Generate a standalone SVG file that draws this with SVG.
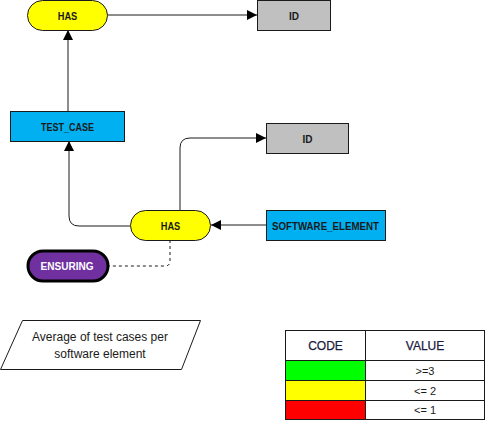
<svg xmlns="http://www.w3.org/2000/svg" width="487" height="421" viewBox="0 0 487 421">
<style>
.lbl{font-family:"Liberation Sans",Arial,sans-serif;font-weight:bold;font-size:11px;fill:#1a1a1a;text-anchor:middle;dominant-baseline:central}
.conn{fill:none;stroke:#1a1a1a;stroke-width:1}
.tbl{font-family:"Liberation Sans",Arial,sans-serif;font-size:11px;fill:#1a1a1a;text-anchor:middle;dominant-baseline:central}
.th{font-family:"Liberation Sans",Arial,sans-serif;font-size:12px;fill:#1a1a40;text-anchor:middle;dominant-baseline:central;stroke:#1a1a40;stroke-width:0.25}
</style>
<defs>
<marker id="arr" viewBox="0 0 10 10" refX="10" refY="5" markerWidth="10" markerHeight="10" markerUnits="userSpaceOnUse" orient="auto">
<path d="M0,0 L10,5 L0,10 Z" fill="#000"/>
</marker>
</defs>
<rect width="487" height="421" fill="#fff"/>
<g id="connectors">
<path class="conn" d="M107,15 H257" marker-end="url(#arr)"/>
<path class="conn" d="M68,111 V30" marker-end="url(#arr)"/>
<path class="conn" d="M180,210 V148 Q180,138 190,138 H266" marker-end="url(#arr)"/>
<path class="conn" d="M130,226 H79 Q69,226 69,216 V141" marker-end="url(#arr)"/>
<path class="conn" d="M266,225 H211" marker-end="url(#arr)"/>
<path class="conn" d="M170,240 V261 Q170,266 165,266 H108" stroke-dasharray="3,3"/>
</g>
<g id="has1">
<rect x="27.5" y="0.5" width="80" height="30" rx="15" fill="#ffff00" stroke="#1a1a1a"/>
<text class="lbl" x="67.5" y="15.5" textLength="19.5" lengthAdjust="spacingAndGlyphs">HAS</text>
</g>
<g id="id1">
<rect x="257.5" y="0.5" width="73" height="30" fill="#c0c0c0" stroke="#1a1a1a"/>
<text class="lbl" x="294" y="15.5" textLength="10" lengthAdjust="spacingAndGlyphs">ID</text>
</g>
<g id="test_case">
<rect x="10.5" y="111.5" width="114" height="30" fill="#00b0f0" stroke="#1a1a1a"/>
<text class="lbl" x="67.5" y="126.5" textLength="53" lengthAdjust="spacingAndGlyphs">TEST_CASE</text>
</g>
<g id="id2">
<rect x="266.5" y="123.5" width="82" height="30" fill="#c0c0c0" stroke="#1a1a1a"/>
<text class="lbl" x="307.5" y="138.5" textLength="10" lengthAdjust="spacingAndGlyphs">ID</text>
</g>
<g id="has2">
<rect x="130.5" y="210.5" width="80" height="30" rx="15" fill="#ffff00" stroke="#1a1a1a"/>
<text class="lbl" x="170.5" y="225.5" textLength="19.5" lengthAdjust="spacingAndGlyphs">HAS</text>
</g>
<g id="software_element">
<rect x="266.5" y="210.5" width="119" height="30" fill="#00b0f0" stroke="#1a1a1a"/>
<text class="lbl" x="325.5" y="225.5" textLength="107" lengthAdjust="spacingAndGlyphs">SOFTWARE_ELEMENT</text>
</g>
<g id="ensuring">
<rect x="28" y="251" width="80" height="30" rx="15" fill="#7030a0" stroke="#000" stroke-width="3"/>
<text class="lbl" x="67" y="266" style="fill:#fff" textLength="53" lengthAdjust="spacingAndGlyphs">ENSURING</text>
</g>
<g id="note">
<path d="M22.5,320.5 H200.5 L181.5,369.5 H0.5 Z" fill="#fff" stroke="#1a1a1a"/>
<text class="tbl" style="font-size:12px" x="100" y="337">Average of test cases per</text>
<text class="tbl" style="font-size:12px" x="100" y="354">software element</text>
</g>
<g id="legend">
<rect x="285.5" y="330.5" width="199" height="89" fill="#fff" stroke="#1a1a1a"/>
<rect x="285.5" y="360.5" width="80" height="20" fill="#00ff00" stroke="#1a1a1a"/>
<rect x="285.5" y="380.5" width="80" height="20" fill="#ffff00" stroke="#1a1a1a"/>
<rect x="285.5" y="400.5" width="80" height="19" fill="#ff0000" stroke="#1a1a1a"/>
<path d="M365.5,330.5 V419.5 M285.5,360.5 H484.5 M365.5,380.5 H484.5 M365.5,400.5 H484.5" stroke="#1a1a1a" fill="none"/>
<text class="th" x="325.5" y="345.5">CODE</text>
<text class="th" x="425" y="345.5">VALUE</text>
<text class="tbl" x="425" y="370.5">&gt;=3</text>
<text class="tbl" x="425" y="390.5">&lt;= 2</text>
<text class="tbl" x="425" y="410">&lt;= 1</text>
</g>
</svg>
